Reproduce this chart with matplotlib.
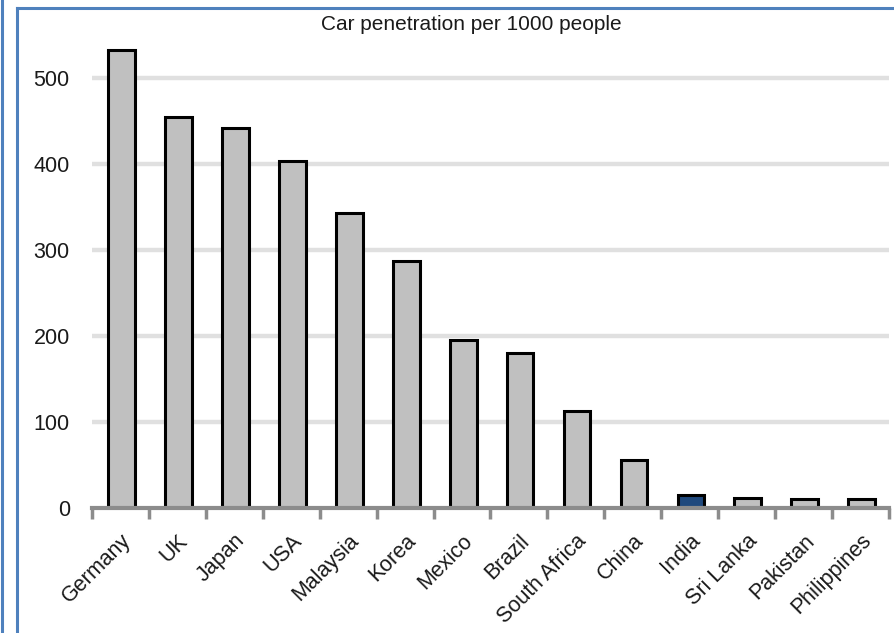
import matplotlib.pyplot as plt
from matplotlib.lines import Line2D
import numpy as np

countries = ['Germany', 'UK', 'Japan', 'USA', 'Malaysia', 'Korea', 'Mexico',
             'Brazil', 'South Africa', 'China', 'India', 'Sri Lanka',
             'Pakistan', 'Philippines']
cars_per_1000 = [532, 455, 442, 403, 343, 287, 195, 180, 113, 56, 15, 12, 10, 10]
highlight = 'India'
yticks = [0, 100, 200, 300, 400, 500]

plt.rcParams['font.family'] = ['Liberation Sans', 'DejaVu Sans']

W, H = 895, 633
fig = plt.figure(figsize=(W / 100, H / 100), dpi=100)

# axes box in pixels: x 92..889, zero line at y=508, 0.86 px per car
ymax = 560
left, right, zero_y = 92, 889, 508
top_y = zero_y - ymax * 0.86
ax = fig.add_axes([left / W, 1 - zero_y / H, (right - left) / W, (zero_y - top_y) / H])

x = np.arange(len(countries))
colors = ['#1f497d' if c == highlight else '#c0c0c0' for c in countries]
ax.bar(x + 0.02, cars_per_1000, width=0.47, color=colors, edgecolor='black',
       linewidth=2.2, zorder=3)

ax.set_xlim(-0.5, len(countries) - 0.5)
ax.set_ylim(0, ymax)

for s in ['left', 'right', 'top']:
    ax.spines[s].set_visible(False)
ax.spines['bottom'].set_color('#8c8c8c')
ax.spines['bottom'].set_linewidth(3)
ax.spines['bottom'].set_zorder(4)

# horizontal gridlines
for v in yticks[1:]:
    ax.axhline(v, color='#e0e0e0', linewidth=3.2, zorder=1)

ax.set_yticks(yticks)
ax.set_yticklabels([str(v) for v in yticks], fontsize=15.5, color='#1a1a1a')
ax.tick_params(axis='y', length=0, pad=16)

# category boundaries get the tick marks, centres get the labels
ax.set_xticks(np.arange(len(countries) + 1) - 0.5, minor=True)
ax.tick_params(axis='x', which='minor', length=8, width=2.5, color='#8c8c8c')
ax.set_xticks(x)
ax.set_xticklabels(countries, rotation=45, ha='right', va='top',
                   rotation_mode='anchor', fontsize=15.5, color='#1a1a1a')
ax.tick_params(axis='x', which='major', length=0, pad=16)

fig.text(471 / W, 1 - 25 / H, 'Car penetration per 1000 people', ha='center',
         va='center', fontsize=15, color='#1a1a1a')

# blue frame lines
blue = '#4f81bd'
fig.add_artist(Line2D([2.5 / W, 2.5 / W], [0, 1], color=blue, linewidth=2.2,
                      transform=fig.transFigure))
fig.add_artist(Line2D([17.5 / W, 17.5 / W], [0, 1 - 7.5 / H], color=blue,
                      linewidth=2.2, transform=fig.transFigure))
fig.add_artist(Line2D([16.5 / W, 1], [1 - 7.5 / H, 1 - 7.5 / H], color=blue,
                      linewidth=2.2, transform=fig.transFigure))

fig.savefig('out.png', dpi=100)
